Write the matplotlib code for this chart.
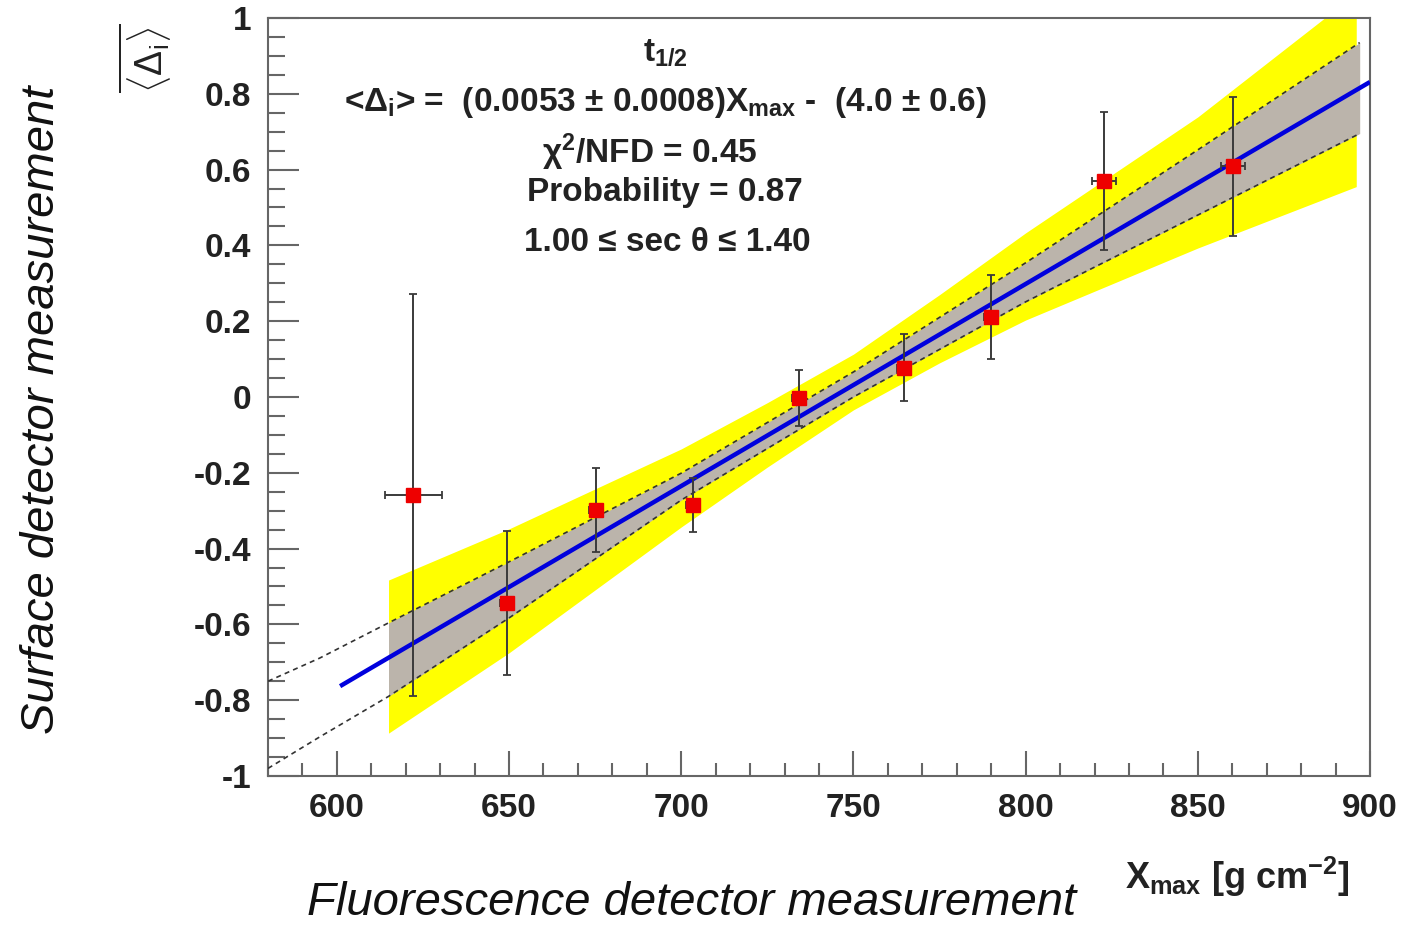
import numpy as np
import matplotlib
matplotlib.use("Agg")
import matplotlib.pyplot as plt
from matplotlib.ticker import MultipleLocator

plt.rcParams['font.family'] = ['Liberation Sans', 'DejaVu Sans']
plt.rcParams['mathtext.fontset'] = 'custom'
plt.rcParams['mathtext.rm'] = 'Liberation Sans'
plt.rcParams['mathtext.bf'] = 'Liberation Sans:bold'
plt.rcParams['mathtext.it'] = 'Liberation Sans:italic'

# measured points
xmax = [622.2, 649.3, 675.2, 703.5, 734.1, 764.7, 789.8, 822.7, 860.3]
delta = [-0.259, -0.543, -0.298, -0.285, -0.003, 0.077, 0.211, 0.570, 0.609]
delta_err = [0.53, 0.19, 0.11, 0.072, 0.074, 0.088, 0.112, 0.183, 0.183]
xmax_err = [8.3, 2, 2, 2, 2, 2, 2, 3.5, 3.5]

# linear fit
fit_x = [601.5, 899.4]
fit_y = [-0.76, 0.828]

# 1 sigma band edges (dashed lines, grey fill from 615 on)
sig1_x = [580, 595, 615, 650, 700, 750, 800, 850, 897]
sig1_hi = [-0.75, -0.689, -0.596, -0.435, -0.201, 0.066, 0.354, 0.652, 0.935]
sig1_lo = [-0.98, -0.897, -0.79, -0.583, -0.272, 0.000, 0.251, 0.48, 0.695]

# 2 sigma band edges (yellow)
sig2_x = [615, 650, 700, 725, 750, 775, 800, 850, 896]
sig2_hi = [-0.483, -0.348, -0.137, -0.015, 0.113, 0.27, 0.433, 0.739, 1.065]
sig2_lo = [-0.887, -0.675, -0.343, -0.185, -0.034, 0.09, 0.203, 0.393, 0.555]

fig = plt.figure(figsize=(14.03, 9.26), dpi=100)
ax = fig.add_axes([0.191, 0.162, 0.7855, 0.8186])

ax.fill_between(sig2_x, sig2_lo, sig2_hi, color='#ffff00', lw=0, zorder=1)
sx = np.array(sig1_x)
mask = sx >= 615
ax.fill_between(sx[mask], np.array(sig1_lo)[mask], np.array(sig1_hi)[mask],
                color='#bbb4ab', lw=0, zorder=2)
ax.plot(sig1_x, sig1_hi, color='#333333', lw=1.2, ls=(0, (3, 2.5)), zorder=3)
ax.plot(sig1_x, sig1_lo, color='#333333', lw=1.2, ls=(0, (3, 2.5)), zorder=3)
ax.plot(fit_x, fit_y, color='#0000dd', lw=3.2, zorder=4)

ax.errorbar(xmax, delta, yerr=delta_err, xerr=xmax_err, fmt='none',
            ecolor='#3a3a3a', elinewidth=1.4, capsize=3, capthick=1.3, zorder=5)
ax.plot(xmax, delta, 's', color='#ee0000', ms=10, mec='#ee0000', zorder=6)

ax.set_xlim(580, 900)
ax.set_ylim(-1, 1)
ax.xaxis.set_major_locator(MultipleLocator(50))
ax.xaxis.set_minor_locator(MultipleLocator(10))
ax.yaxis.set_major_locator(MultipleLocator(0.2))
ax.yaxis.set_minor_locator(MultipleLocator(0.05))
ax.tick_params(axis='both', which='both', direction='in', color='#666666',
               top=False, right=False)
ax.tick_params(axis='y', which='major', length=22, width=1.5, pad=12)
ax.tick_params(axis='y', which='minor', length=12, width=1.5)
ax.tick_params(axis='x', which='major', length=18, width=1.5, pad=12)
ax.tick_params(axis='x', which='minor', length=9.5, width=1.5)
ax.set_yticks([1, 0.8, 0.6, 0.4, 0.2, 0, -0.2, -0.4, -0.6, -0.8, -1])
ax.set_yticklabels(['1', '0.8', '0.6', '0.4', '0.2', '0', '-0.2', '-0.4',
                    '-0.6', '-0.8', '-1'])
for lab in ax.get_xticklabels() + ax.get_yticklabels():
    lab.set_fontsize(24)
    lab.set_fontweight('bold')
    lab.set_color('#222222')
for sp in ax.spines.values():
    sp.set_color('#666666')
    sp.set_linewidth(1.5)

# fit result text
tkw = dict(ha='center', va='center', fontsize=24, fontweight='bold',
           color='#222222', transform=fig.transFigure)
fig.text(665 / 1403, 1 - 52 / 926, r't$_{\mathbf{1/2}}$', **tkw)
fig.text(665 / 1403, 1 - 103 / 926,
         r'<Δ$_{\mathbf{i}}$> =  (0.0053 ± 0.0008)X$_{\mathbf{max}}$ -  (4.0 ± 0.6)',
         **tkw)
fig.text(650 / 1403, 1 - 152 / 926, r'χ$^{\mathbf{2}}$/NFD = 0.45', **tkw)
fig.text(665 / 1403, 1 - 193 / 926, 'Probability = 0.87', **tkw)
fig.text(667 / 1403, 1 - 243 / 926, '1.00 ≤ sec θ ≤ 1.40', **tkw)

# axis titles
fig.text(145 / 1403, 1 - 58 / 926, r'$\overline{\langle\Delta_{\mathrm{i}}\rangle}$',
         rotation=90, ha='center', va='center', fontsize=27, color='#222222')
fig.text(1237 / 1403, 1 - 877 / 926, r'X$_{\mathbf{max}}$ [g cm$^{\mathbf{-2}}$]',
         ha='center', va='center', fontsize=26, fontweight='bold', color='#222222')
fig.text(692 / 1403, 1 - 903 / 926, 'Fluorescence detector measurement',
         ha='center', va='center', fontsize=34, style='italic', color='#111111')
fig.text(42 / 1403, 1 - 410 / 926, 'Surface detector measurement',
         rotation=90, ha='center', va='center', fontsize=34, style='italic',
         color='#111111')

fig.savefig('out.png', dpi=100)
